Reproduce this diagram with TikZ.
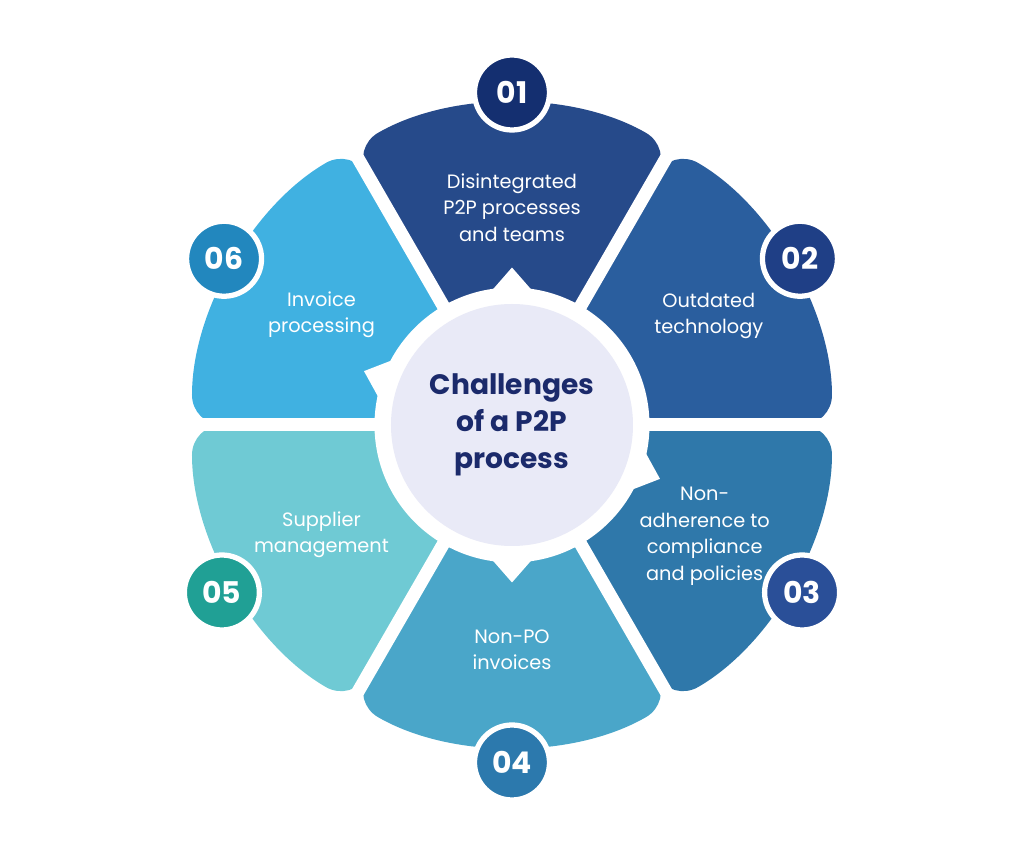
\documentclass[tikz,border=0pt]{standalone}
\usepackage{fontspec}
\setmainfont{Poppins}
\usetikzlibrary{calc}
\definecolor{navy}{HTML}{1B2A6B}
\definecolor{petalA}{HTML}{264A8A}
\definecolor{petalB}{HTML}{2A5E9E}
\definecolor{petalC}{HTML}{2F78AA}
\definecolor{petalD}{HTML}{4AA6C9}
\definecolor{petalE}{HTML}{6FCAD4}
\definecolor{petalF}{HTML}{40B1E1}
\definecolor{badgeA}{HTML}{142F70}
\definecolor{badgeB}{HTML}{1F3F86}
\definecolor{badgeC}{HTML}{2A4F98}
\definecolor{badgeD}{HTML}{2C79AD}
\definecolor{badgeE}{HTML}{20A095}
\definecolor{badgeF}{HTML}{2287BE}
\definecolor{hub}{HTML}{E9EAF7}
\tikzset{
  label/.style={text=white, align=center, font=\fontsize{11}{15}\selectfont},
  badge/.style={circle, fill=#1, draw=white, line width=3pt, minimum size=1.5cm,
    text=white, font=\fontsize{17}{17}\selectfont\bfseries, inner sep=0pt}
}
\begin{document}
\begin{tikzpicture}
    % canvas
    \useasboundingbox (-10.24,-8.56) rectangle (10.24,8.5);
    % petals
    \foreach \a/\c in {90/petalA,30/petalB,-30/petalC,-90/petalD,-150/petalE,150/petalF}
        \fill[\c, rounded corners=0.6cm] (\a-30:1.8) -- (\a-30:6.4)
            arc[start angle=\a-30, end angle=\a+30, radius=6.4] -- (\a+30:1.8) -- cycle;
    % gaps between petals
    \foreach \a in {0,60,...,300}
        \draw[white, line width=0.26cm] (0,0) -- (\a:6.8);
    % hub
    \fill[white] (0,0) circle (2.75);
    \foreach \a in {90,-90,160,-20}
        \fill[white] (\a-9:2.7) -- (\a:3.15) -- (\a+9:2.7) -- cycle;
    \node[circle, fill=hub, minimum size=4.84cm, text=navy, align=center,
        font=\fontsize{16}{21}\selectfont\bfseries] (hub) at (0,0)
        {Challenges\\of a P2P\\process};
    % labels
    \node[label] (t1) at (90:4.35) {Disintegrated\\P2P processes\\and teams};
    \node[label] (t2) at (29:4.5) {Outdated\\technology};
    \node[label] (t3) at (-30:4.45) {Non-\\adherence to\\compliance\\and policies};
    \node[label] (t4) at (-90:4.5) {Non-PO\\invoices};
    \node[label] (t5) at (-150:4.4) {Supplier\\management};
    \node[label] (t6) at (150:4.4) {Invoice\\processing};
    % badges
    \node[badge=badgeA] (b1) at (90:6.65) {01};
    \node[badge=badgeB] (b2) at (30:6.65) {02};
    \node[badge=badgeC] (b3) at (-30:6.7) {03};
    \node[badge=badgeD] (b4) at (-90:6.75) {04};
    \node[badge=badgeE] (b5) at (-150:6.7) {05};
    \node[badge=badgeF] (b6) at (150:6.65) {06};
\end{tikzpicture}
\end{document}
